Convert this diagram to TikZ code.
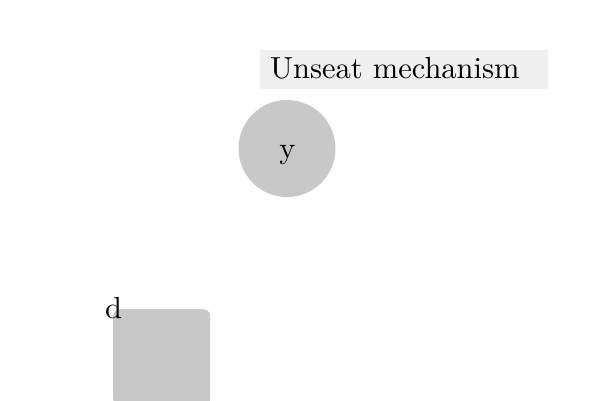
\documentclass[tikz,border=0pt]{standalone}
\definecolor{boxgray}{HTML}{C8C8C8}
\definecolor{titlegray}{HTML}{F0F0F0}
\font\bigrm="[lmroman10-regular]" at 30.5pt
\tikzset{
  shapefill/.style={fill=boxgray, draw=none},
  lbl/.style={font=\bigrm, inner sep=0pt},
}
\begin{document}
\begin{tikzpicture}[x=1pt,y=-1pt]
\clip (0,0) rectangle (600,400);
\useasboundingbox (0,0) rectangle (600,400);
\node[fill=titlegray, draw=none, minimum width=288pt, minimum height=39pt, inner sep=0pt, anchor=north west] (titlebox) at (260,50) {};
\node[lbl, anchor=base west] (title) at (270,78.5) {Unseat mechanism};
\node[shapefill, circle, minimum size=97pt, inner sep=0pt] (y) at (287,148.5) {};
\node[lbl, anchor=base] (ylbl) at (287.5,158) {y};
\node[shapefill, rectangle, rounded corners=7pt, minimum width=97pt, minimum height=97pt, inner sep=0pt, anchor=north west] (sq) at (113,309) {};
\node[lbl, anchor=base] (d) at (113.5,318) {d};
\end{tikzpicture}
\end{document}
